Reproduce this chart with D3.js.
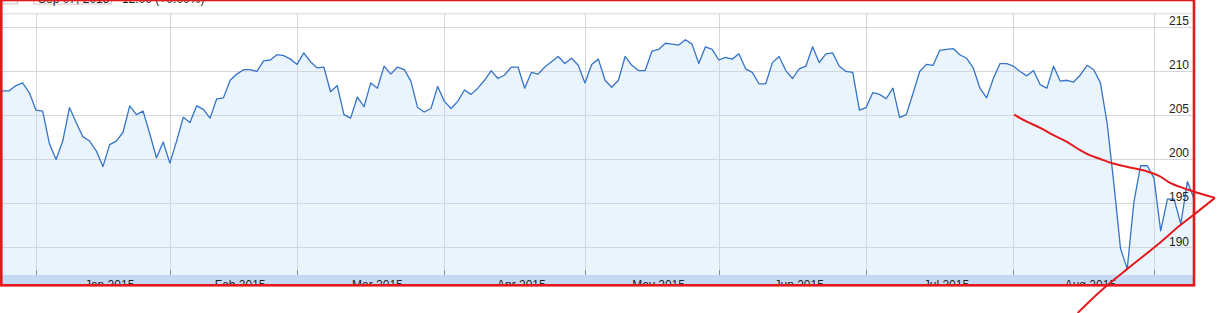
<!DOCTYPE html>
<html><head><meta charset="utf-8">
<script src="https://cdn.jsdelivr.net/npm/d3@7"></script>
<style>html,body{margin:0;padding:0;background:#fff;overflow:hidden}</style>
</head><body><svg id="c" width="1217" height="313"></svg>
<script>
// ---- data ----
const startDate = "2014-12-22";
const endDate = "2015-09-09";
const holidays = ["2014-12-25","2015-01-01","2015-01-19","2015-02-16","2015-04-03","2015-05-25","2015-07-03","2015-09-07"];
const closesDec = [207.5, 207.7, 207.7, 208.3, 208.6, 207.5, 205.5];
const closesJan = [205.4, 201.7, 199.9, 202.0, 205.8, 204.1, 202.5, 202.0, 200.9, 199.1, 201.6, 202.0, 203.0, 206.0, 205.0, 205.4, 202.8, 200.1, 201.9, 199.5];
const closesFeb = [202.0, 204.7, 204.1, 206.0, 205.6, 204.6, 206.8, 206.9, 208.9, 209.6, 210.1, 210.1, 209.9, 211.1, 211.2, 211.8, 211.7, 211.3, 210.7];
const closesMar = [212.0, 211.0, 210.3, 210.4, 207.6, 208.3, 205.0, 204.6, 207.0, 205.9, 208.6, 208.0, 210.5, 209.6, 210.4, 210.1, 208.8, 205.8, 205.3, 205.7, 208.2, 206.5];
const closesApr = [205.7, 206.5, 207.8, 207.3, 208.0, 208.9, 210.0, 209.1, 209.5, 210.4, 210.4, 208.0, 209.8, 209.6, 210.4, 211.0, 211.6, 210.8, 211.4, 210.6, 208.6];
const closesMay = [210.7, 211.3, 208.9, 208.1, 208.9, 211.6, 210.6, 210.0, 210.0, 212.2, 212.4, 213.1, 213.0, 212.9, 213.5, 213.0, 210.8, 212.7, 212.4, 211.2];
const closesJun = [211.5, 211.3, 211.9, 210.2, 209.8, 208.5, 208.5, 210.9, 211.6, 210.0, 209.1, 210.2, 210.5, 212.7, 210.9, 211.9, 212.0, 210.5, 209.9, 209.8, 205.5, 205.8];
const closesJul = [207.5, 207.3, 206.8, 208.0, 204.7, 205.0, 207.4, 209.9, 210.7, 210.6, 212.3, 212.4, 212.5, 211.8, 211.4, 210.3, 208.0, 206.9, 209.1, 210.8, 210.8, 210.5];
const closesAug = [209.9, 209.4, 210.0, 208.4, 208.0, 210.5, 208.8, 208.9, 208.7, 209.5, 210.6, 210.1, 208.6, 204.0, 197.2, 189.8, 187.5, 195.1, 199.2, 199.2, 197.8];
const closesSep = [191.8, 195.4, 195.4, 192.6, 197.4, 195.4];
const monthLabels = ["Jan 2015","Feb 2015","Mar 2015","Apr 2015","May 2015","Jun 2015","Jul 2015","Aug 2015"];
const yTicks = [190, 195, 200, 205, 210, 215];
const headerDate = "Sep 07, 2015";
const headerInfo = "12:00 (+0.00%)";
// hand-drawn annotation lines, in (trading-day index, price) units
const trendUpper = [[152.1,205.0],[154.0,204.2],[156.0,203.5],[157.9,202.7],[160.0,201.9],[161.9,201.0],[163.4,200.4],[164.9,200.0],[166.9,199.45],[169.4,199.0],[172.0,198.55],[173.9,198.0],[175.4,197.25],[176.9,196.8],[178.8,196.3],[182.1,195.55]];
const trendLower = [[161.6,182.5],[165.2,185.1],[169.1,187.55],[173.15,190.0],[177.0,192.5],[179.3,193.85],[182.1,195.55]];

// ---- build ----
const closes = [].concat(closesDec, closesJan, closesFeb, closesMar, closesApr, closesMay, closesJun, closesJul, closesAug, closesSep);
const fmt = d3.utcFormat("%Y-%m-%d");
const p = d3.utcParse("%Y-%m-%d");
const dates = d3.utcDay.range(p(startDate), d3.utcDay.offset(p(endDate), 1))
  .filter(d => d.getUTCDay() % 6 !== 0 && !holidays.includes(fmt(d)));
const data = closes.map((v, i) => ({i, date: dates[i], v}));

const W = 1217, H = 313;
const plotTop = 13.3, plotBottom = 275, imgBottom = 286, imgRight = 1193;
const x = d3.scaleLinear().domain([0, closes.length - 1]).range([-4.17, -4.17 + (closes.length - 1) * 6.6946]);
const y = d3.scaleLinear().domain([186.8, 216.5]).range([plotBottom, plotTop]);

const svg = d3.select("#c");
const defs = svg.append("defs");
defs.append("clipPath").attr("id", "img").append("rect")
  .attr("x", 0).attr("y", 0).attr("width", imgRight).attr("height", imgBottom);
defs.append("clipPath").attr("id", "plot").append("rect")
  .attr("x", 0).attr("y", plotTop).attr("width", imgRight).attr("height", plotBottom - plotTop);

const g = svg.append("g").attr("clip-path", "url(#img)");
g.append("rect").attr("x", 0).attr("y", 0).attr("width", imgRight).attr("height", imgBottom).attr("fill", "#fff");

// header remnants (mostly cut off at top)
g.append("rect").attr("x", 1.5).attr("y", -12).attr("width", 16).attr("height", 16).attr("fill", "#f4f4f4").attr("stroke", "#c8c8c8");
g.append("rect").attr("x", 33.5).attr("y", -12).attr("width", 78).attr("height", 16).attr("fill", "#fff").attr("stroke", "#c8c8c8");
g.append("text").attr("x", 38).attr("y", 2.5).attr("font-family", "Liberation Sans, Arial, sans-serif").attr("font-size", 12).attr("fill", "#222").text(headerDate);
g.append("text").attr("x", 122).attr("y", 2.5).attr("font-family", "Liberation Sans, Arial, sans-serif").attr("font-size", 12).attr("fill", "#222").text(headerInfo);

const pg = g.append("g").attr("clip-path", "url(#plot)");
// area fill
pg.append("path").datum(data)
  .attr("fill", "#eaf4fc")
  .attr("d", d3.area().x(d => x(d.i)).y0(plotBottom).y1(d => y(d.v)));

// month boundaries: last trading day of each month
const byMonth = d3.groups(data, d => d3.utcFormat("%Y-%m")(d.date));
const lastIdx = byMonth.slice(0, -1).map(([, arr]) => arr[arr.length - 1].i);
const firstIdx = byMonth.map(([, arr]) => arr[0].i);

// horizontal gridlines
const gridColor = "#d3d7dd";
pg.selectAll("line.h").data(yTicks).join("line").attr("class", "h")
  .attr("x1", 0).attr("x2", imgRight)
  .attr("y1", d => Math.round(y(d)) + 0.5).attr("y2", d => Math.round(y(d)) + 0.5)
  .attr("stroke", gridColor).attr("stroke-width", 1);
g.append("line").attr("x1", 0).attr("x2", imgRight).attr("y1", plotTop + 0.5).attr("y2", plotTop + 0.5)
  .attr("stroke", gridColor);
// vertical gridlines
pg.selectAll("line.v").data(lastIdx).join("line").attr("class", "v")
  .attr("x1", d => Math.round(x(d)) + 0.5).attr("x2", d => Math.round(x(d)) + 0.5)
  .attr("y1", plotTop).attr("y2", plotBottom)
  .attr("stroke", gridColor).attr("stroke-width", 1);

// price line
pg.append("path").datum(data)
  .attr("fill", "none").attr("stroke", "#3574c8").attr("stroke-width", 1.3)
  .attr("stroke-linejoin", "round")
  .attr("d", d3.line().x(d => x(d.i)).y(d => y(d.v)));

// x axis band
g.append("rect").attr("x", 0).attr("y", plotBottom).attr("width", imgRight).attr("height", imgBottom - plotBottom)
  .attr("fill", "#c6d9f4");
g.selectAll("line.tick").data(lastIdx).join("line").attr("class", "tick")
  .attr("x1", d => Math.round(x(d)) + 0.5).attr("x2", d => Math.round(x(d)) + 0.5)
  .attr("y1", plotBottom - 5).attr("y2", plotBottom)
  .attr("stroke", "#8a8f96").attr("stroke-width", 1);
g.selectAll("text.mlab").data(monthLabels).join("text").attr("class", "mlab")
  .attr("x", (d, k) => (x(firstIdx[k + 1]) + x(firstIdx[k + 2])) / 2)
  .attr("y", 288.5)
  .attr("text-anchor", "middle")
  .attr("font-family", "Liberation Sans, Arial, sans-serif").attr("font-size", 12).attr("fill", "#222")
  .text(d => d);

// y labels
g.selectAll("text.ylab").data(yTicks).join("text").attr("class", "ylab")
  .attr("x", 1189).attr("y", d => y(d) - 1.3)
  .attr("text-anchor", "end")
  .attr("font-family", "Liberation Sans, Arial, sans-serif").attr("font-size", 12).attr("fill", "#222")
  .text(d => d);

// red annotations
const red = "#e3191c";
svg.append("rect").attr("x", 1.3).attr("y", 0).attr("width", imgRight - 0.3).attr("height", 285.3)
  .attr("fill", "none").attr("stroke", red).attr("stroke-width", 2.6);
const tl = d3.line().x(d => x(d[0])).y(d => y(d[1])).curve(d3.curveCatmullRom);
svg.append("path").datum(trendUpper).attr("fill", "none").attr("stroke", red).attr("stroke-width", 2).attr("d", tl);
svg.append("path").datum(trendLower).attr("fill", "none").attr("stroke", red).attr("stroke-width", 2).attr("d", tl);
</script>
</body></html>
